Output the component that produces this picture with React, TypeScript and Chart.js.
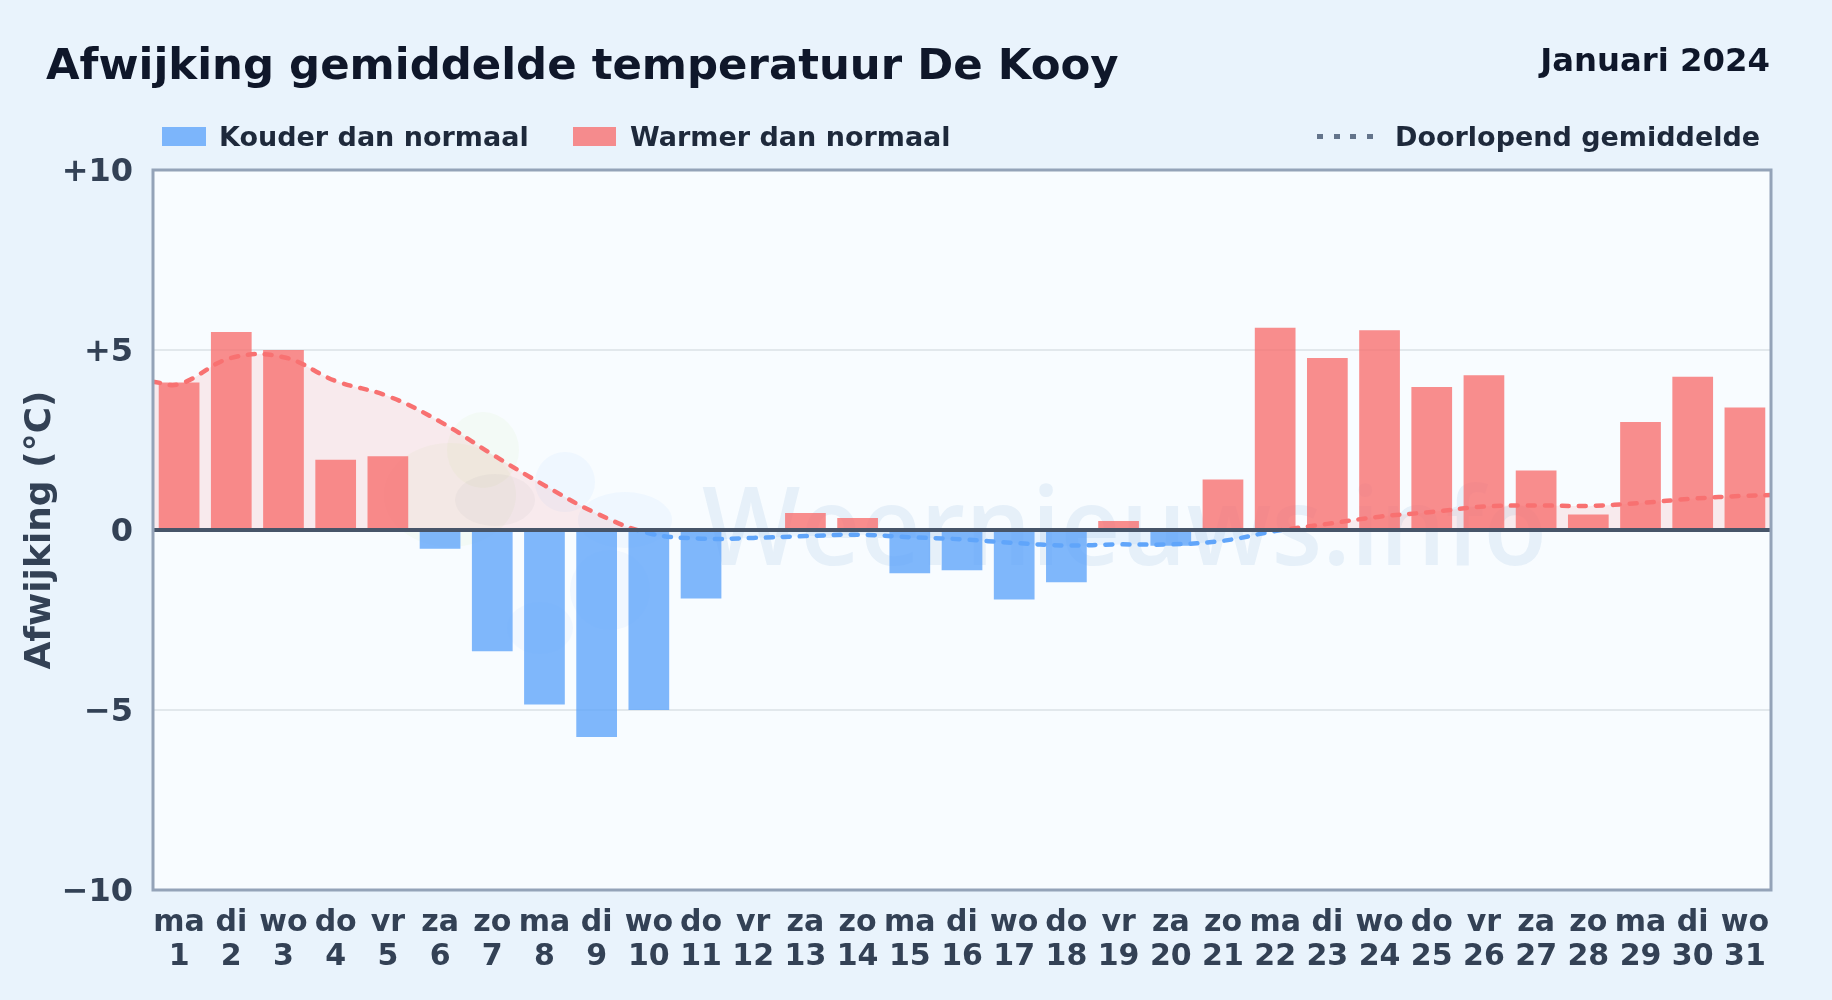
import React, { useEffect, useRef } from "react";
import { Chart, registerables } from "chart.js";

Chart.register(...registerables);

const weekdays = ["ma","di","wo","do","vr","za","zo","ma","di","wo","do","vr","za","zo","ma","di","wo","do","vr","za","zo","ma","di","wo","do","vr","za","zo","ma","di","wo"];
const days = [1,2,3,4,5,6,7,8,9,10,11,12,13,14,15,16,17,18,19,20,21,22,23,24,25,26,27,28,29,30,31];
const anomaly = [4.1,5.5,5.0,1.95,2.05,-0.52,-3.37,-4.85,-5.75,-5.0,-1.9,0,0.47,0.33,-1.2,-1.12,-1.93,-1.45,0.25,-0.44,1.4,5.62,4.78,5.55,3.97,4.3,1.65,0.43,3.0,4.26,3.4];
const meanX = [0.5,1,2,3,4,5,6,7,8,9,10,11,12,13,14,15,16,17,18,19,20,21,22,23,24,25,26,27,28,29,30,31,31.5];
const meanY = [4.12,4.05,4.78,4.8,4.14,3.72,3.01,2.1,1.24,0.46,-0.09,-0.24,-0.22,-0.17,-0.13,-0.2,-0.26,-0.36,-0.43,-0.4,-0.4,-0.3,-0.03,0.17,0.37,0.5,0.65,0.68,0.67,0.75,0.87,0.95,0.97];
const yTicks = [10,5,0,-5,-10];

const FONT = "'DejaVu Sans', sans-serif";
const RED = "rgba(248,113,113,0.8)";
const BLUE = "rgba(96,165,250,0.8)";

const backdrop = {
  id: "backdrop",
  beforeDraw(chart: any) {
    const { ctx, chartArea: a } = chart;
    ctx.save();
    ctx.fillStyle = "#f8fcff";
    ctx.fillRect(a.left, a.top, a.right - a.left, a.bottom - a.top);
    ctx.restore();
  },
  beforeDatasetsDraw(chart: any) {
    const { ctx } = chart;
    ctx.save();
    const blob = (x: number, y: number, rx: number, ry: number, c: string) => {
      ctx.fillStyle = c;
      ctx.beginPath();
      ctx.ellipse(x, y, rx, ry, 0, 0, Math.PI * 2);
      ctx.fill();
    };
    blob(483, 450, 36, 38, "rgba(190,225,130,0.07)");
    blob(450, 495, 66, 52, "rgba(190,225,130,0.07)");
    blob(565, 482, 30, 30, "rgba(96,165,250,0.06)");
    blob(625, 520, 47, 28, "rgba(96,165,250,0.06)");
    blob(610, 590, 40, 40, "rgba(96,165,250,0.05)");
    blob(540, 628, 33, 26, "rgba(96,165,250,0.05)");
    blob(495, 500, 40, 26, "rgba(100,116,139,0.05)");
    ctx.fillStyle = "rgba(30,100,180,0.08)";
    ctx.font = "600 108px 'Open Sans', sans-serif";
    ctx.textAlign = "left";
    ctx.textBaseline = "alphabetic";
    ctx.fillText("Weernieuws.info", 702, 565, 845);
    ctx.restore();
  },
  afterDatasetsDraw(chart: any) {
    const { ctx, chartArea: a, scales } = chart;
    ctx.save();
    const z = scales.y.getPixelForValue(0);
    ctx.strokeStyle = "#475569";
    ctx.lineWidth = 4;
    ctx.beginPath();
    ctx.moveTo(a.left, z);
    ctx.lineTo(a.right, z);
    ctx.stroke();
    ctx.strokeStyle = "#94a3b8";
    ctx.lineWidth = 3;
    ctx.strokeRect(a.left, a.top, a.right - a.left, a.bottom - a.top);
    ctx.restore();
  },
};

const meanStroke = (context: any) => {
  const { chart } = context;
  const { ctx, chartArea, scales } = chart;
  if (!chartArea) return "#f87171";
  const g = ctx.createLinearGradient(0, chartArea.top, 0, chartArea.bottom);
  const p = (scales.y.getPixelForValue(0) - chartArea.top) / (chartArea.bottom - chartArea.top);
  g.addColorStop(0, "#f87171");
  g.addColorStop(p, "#f87171");
  g.addColorStop(p, "#60a5fa");
  g.addColorStop(1, "#60a5fa");
  return g;
};

const text = (left: number | null, top: number, size: number, color: string, extra: any = {}) => ({
  position: "absolute" as const,
  left: left === null ? undefined : left,
  top,
  fontFamily: FONT,
  fontWeight: 700,
  fontSize: size,
  lineHeight: 1,
  color,
  whiteSpace: "nowrap" as const,
  transform: "translateY(-50%)",
  ...extra,
});

export default function App() {
  const ref = useRef<HTMLCanvasElement>(null);
  useEffect(() => {
    document.body.style.margin = "0";
    const chart = new Chart(ref.current!, {
      type: "bar",
      data: {
        labels: weekdays.map((d, i) => [d, String(days[i])]),
        datasets: [
          {
            type: "bar",
            label: "Afwijking",
            data: anomaly,
            backgroundColor: anomaly.map((v) => (v >= 0 ? RED : BLUE)),
            grouped: false,
            barPercentage: 0.975,
            order: 2,
          },
          {
            type: "line",
            label: "Doorlopend gemiddelde",
            xAxisID: "xLine",
            data: meanX.map((x, i) => ({ x, y: meanY[i] })),
            borderColor: meanStroke,
            borderWidth: 4.5,
            borderDash: [7, 10],
            borderCapStyle: "round",
            pointRadius: 0,
            tension: 0.4,
            fill: { target: "origin", above: "rgba(248,113,113,0.13)", below: "rgba(96,165,250,0.1)" },
            order: 1,
          },
        ] as any,
      },
      options: {
        animation: false,
        responsive: false,
        devicePixelRatio: 1,
        layout: { padding: { top: 170, right: 61, left: 0, bottom: 0 } },
        plugins: { legend: { display: false }, tooltip: { enabled: false } },
        scales: {
          x: {
            grid: { display: false },
            border: { display: false },
            afterFit(s: any) { s.height = 110; },
            ticks: {
              color: "#334155",
              font: { family: FONT, weight: "bold", size: 30, lineHeight: 1.13 },
              padding: 8,
              autoSkip: false,
              maxRotation: 0,
              minRotation: 0,
            },
          },
          xLine: { type: "linear", display: false, min: 0.5, max: 31.5, offset: false },
          y: {
            min: -10,
            max: 10,
            afterFit(s: any) { s.width = 153; },
            afterBuildTicks(s: any) { s.ticks = yTicks.map((value) => ({ value })); },
            border: { display: false },
            grid: {
              color: (c: any) => (Math.abs(c.tick.value) === 5 ? "#e2e8ec" : "transparent"),
              lineWidth: 2,
              drawTicks: false,
            },
            ticks: {
              color: "#334155",
              font: { family: FONT, weight: "bold", size: 32 },
              padding: 20,
              labelOffset: 3,
              callback: (v: any) => (v > 0 ? `+${v}` : v < 0 ? `\u2212${-v}` : "0"),
            },
            title: {
              display: true,
              text: "Afwijking (°C)",
              color: "#334155",
              font: { family: FONT, weight: "bold", size: 36 },
              padding: { top: 19, bottom: 0 },
            },
          },
        },
      },
      plugins: [backdrop],
    } as any);
    return () => chart.destroy();
  }, []);

  return (
    <div style={{ position: "relative", width: 1832, height: 1000, overflow: "hidden", background: "#e9f3fc" }}>
      <canvas ref={ref} width={1832} height={1000} style={{ position: "absolute", left: 0, top: 0 }} />
      <div style={text(46, 65, 43.4, "#0f172a")}>Afwijking gemiddelde temperatuur De Kooy</div>
      <div style={text(null, 60, 32.3, "#0f172a", { right: 62 })}>Januari 2024</div>
      <div style={{ position: "absolute", left: 162, top: 127, width: 44, height: 19, background: BLUE }} />
      <div style={text(219, 136, 27, "#1e293b")}>Kouder dan normaal</div>
      <div style={{ position: "absolute", left: 573, top: 127, width: 43, height: 19, background: RED }} />
      <div style={text(630, 136, 27, "#1e293b")}>Warmer dan normaal</div>
      <div style={{ position: "absolute", left: 1317, top: 134, width: 56, height: 5, background: "repeating-linear-gradient(90deg,#64748b 0 6px,transparent 6px 16.6px)" }} />
      <div style={text(1395, 136, 27, "#1e293b")}>Doorlopend gemiddelde</div>
    </div>
  );
}
